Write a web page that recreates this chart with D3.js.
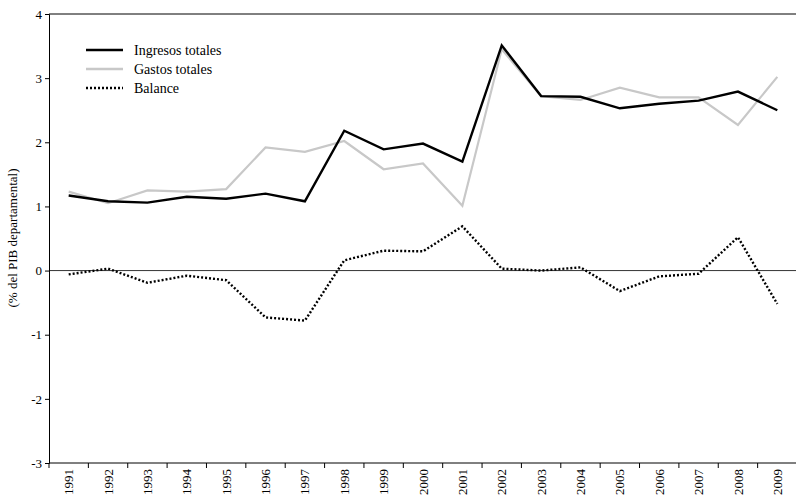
<!DOCTYPE html>
<html><head><meta charset="utf-8">
<script src="https://cdn.jsdelivr.net/npm/d3@7"></script>
<style>body{margin:0;background:#fff}svg text{font-family:"Liberation Serif","Times New Roman",Times,serif !important}</style>
</head><body><svg id="c" width="796" height="502"></svg>
<script>
const years = d3.range(1991, 2010).map(String);
const ingresos = [1.17,1.08,1.06,1.15,1.12,1.20,1.08,2.18,1.89,1.98,1.70,3.51,2.72,2.71,2.53,2.60,2.65,2.79,2.50];
const gastos   = [1.23,1.05,1.25,1.23,1.27,1.92,1.85,2.02,1.58,1.67,1.01,3.45,2.72,2.66,2.85,2.70,2.70,2.27,3.02];
const balance  = [-0.06,0.03,-0.19,-0.08,-0.15,-0.73,-0.78,0.16,0.31,0.30,0.69,0.03,0.0,0.05,-0.32,-0.09,-0.05,0.52,-0.52];
const yTicks = [-3,-2,-1,0,1,2,3,4];
const FF = "Liberation Serif";

const svg = d3.select("#c");
const L=49, R=797, T=14, B=463;
const x = d3.scaleBand().domain(years).range([L,R]);
const y = d3.scaleLinear().domain([-3,4]).range([B,T]);
const cx = d => x(d)+x.bandwidth()/2;

svg.append("line").attr("x1",L).attr("x2",796).attr("y1",T).attr("y2",T).attr("stroke","#000");
svg.append("line").attr("x1",L).attr("x2",796).attr("y1",y(0)).attr("y2",y(0)).attr("stroke","#000").attr("stroke-width",0.8);

const ya = svg.append("g").attr("transform",`translate(${L},0)`)
  .call(d3.axisLeft(y).tickValues(yTicks).tickSize(4).tickFormat(d=>String(d)));
ya.attr("font-family",FF);
ya.select(".domain").attr("stroke","#000");
ya.selectAll("text").style("font-size","13px").attr("fill","#000");

const xa = svg.append("g").attr("transform",`translate(0,${B})`).call(d3.axisBottom(x).tickSize(0));
xa.attr("font-family",FF);
xa.select(".domain").attr("d",`M${L},0H796`).attr("stroke","#000");
xa.selectAll(".tick line").remove();
years.forEach(yr=>xa.append("line").attr("x1",x(yr)).attr("x2",x(yr)).attr("y1",0).attr("y2",5).attr("stroke","#000"));
xa.selectAll(".tick text").attr("transform","rotate(-90)").attr("x",-6).attr("y",0).attr("dy","0.35em")
  .style("text-anchor","end").style("font-size","13px").attr("fill","#000");

svg.append("text").attr("font-family",FF).attr("transform","translate(17,238) rotate(-90)").attr("text-anchor","middle")
  .style("font-size","13px").text("(% del PIB departamental)");

const line = d3.line().x((d,i)=>cx(years[i])).y(d=>y(d));
svg.append("path").datum(gastos).attr("d",line).attr("fill","none").attr("stroke","#c8c8c8").attr("stroke-width",2.2);
svg.append("path").datum(ingresos).attr("d",line).attr("fill","none").attr("stroke","#000").attr("stroke-width",2.4);
svg.append("path").datum(balance).attr("d",line).attr("fill","none").attr("stroke","#000").attr("stroke-width",2.4).attr("stroke-dasharray","2,2");

const leg = [["Ingresos totales","#000",null],["Gastos totales","#c8c8c8",null],["Balance","#000","2,2"]];
leg.forEach((l,i)=>{
  const yy = 50+i*19;
  svg.append("line").attr("x1",86).attr("x2",123).attr("y1",yy).attr("y2",yy).attr("stroke",l[1]).attr("stroke-width",2.6).attr("stroke-dasharray",l[2]);
  svg.append("text").attr("font-family",FF).attr("x",134).attr("y",yy).attr("dy","0.35em").style("font-size","14px").text(l[0]);
});
</script></body></html>
